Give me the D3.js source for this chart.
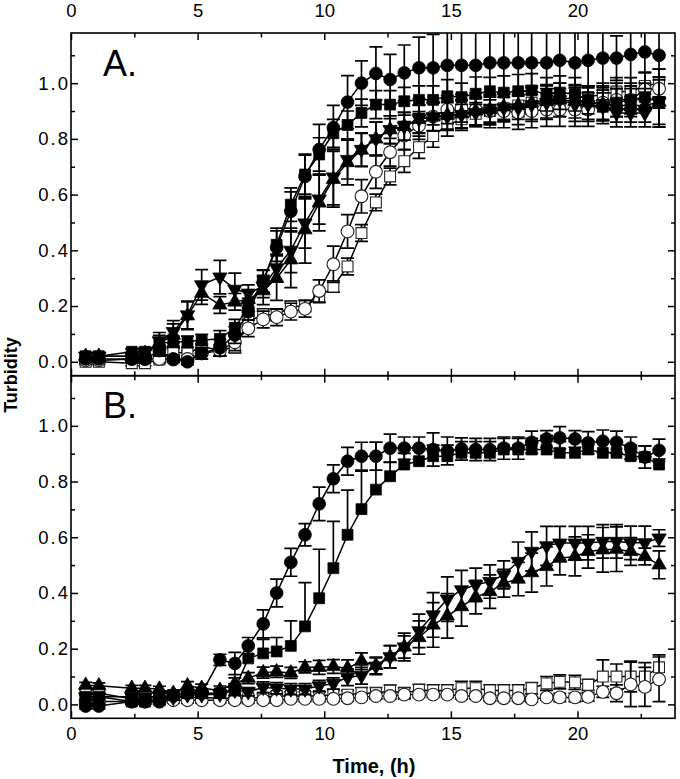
<!DOCTYPE html>
<html>
<head>
<meta charset="utf-8">
<script src="https://cdn.jsdelivr.net/npm/d3@7"></script>
<style>
  html, body { margin: 0; padding: 0; background: #fff; }
  svg { display: block; }
  text { font-family: "Liberation Sans", Arial, Helvetica, sans-serif; fill: #000; }
</style>
</head>
<body>
<svg id="chart" width="680" height="779"></svg>
<script>
// ---------------- DATA ----------------
const times = [0.58, 1.1, 2.4, 2.92, 3.49, 4.04, 4.6, 5.16, 5.88, 6.47, 7.0, 7.59, 8.12, 8.68, 9.24, 9.8,
  10.36, 10.92, 11.47, 12.04, 12.6, 13.16, 13.74, 14.3, 14.86, 15.42, 15.98, 16.54, 17.09, 17.66,
  18.19, 18.78, 19.3, 19.9, 20.42, 21.0, 21.54, 22.1, 22.66, 23.22];

const xTickLabels = [0, 5, 10, 15, 20];
const xMinorTicks = [2.5, 7.5, 12.5, 17.5, 22.5];
const yTickLabels = [0.0, 0.2, 0.4, 0.6, 0.8, 1.0];
const yMinorTicks = [0.1, 0.3, 0.5, 0.7, 0.9, 1.1];
const panelLabels = ["A.", "B."];

// Panel A
const aFilledCircle = [0.01,0.01,0.01,0.01,0.04,0.01,0.0,0.03,0.05,0.096,0.18,0.288,0.41,0.54,0.665,0.762,0.84,0.932,1.0,1.035,1.013,1.037,1.055,1.055,1.064,1.064,1.064,1.073,1.073,1.073,1.073,1.073,1.082,1.073,1.082,1.09,1.09,1.103,1.112,1.1];
const aFilledCircleErr = [0.01,0.01,0.01,0.01,0.02,0.01,0.01,0.02,0.03,0.03,0.03,0.04,0.06,0.07,0.08,0.09,0.08,0.095,0.08,0.095,0.09,0.1,0.11,0.12,0.12,0.14,0.14,0.15,0.15,0.15,0.15,0.15,0.15,0.15,0.15,0.15,0.08,0.15,0.15,0.15];
const aFilledSquare = [0.02,0.02,0.036,0.036,0.066,0.072,0.072,0.078,0.082,0.122,0.198,0.29,0.42,0.564,0.672,0.744,0.82,0.85,0.893,0.923,0.923,0.935,0.94,0.94,0.953,0.95,0.962,0.971,0.966,0.971,0.974,0.96,0.966,0.96,0.94,0.915,0.93,0.94,0.95,0.932];
const aFilledSquareErr = [0.01,0.01,0.01,0.01,0.02,0.02,0.02,0.02,0.03,0.03,0.03,0.04,0.06,0.06,0.07,0.06,0.05,0.05,0.05,0.05,0.05,0.05,0.05,0.05,0.06,0.05,0.06,0.05,0.06,0.06,0.06,0.06,0.06,0.06,0.05,0.05,0.05,0.05,0.05,0.09];
const aDownTri = [0.02,0.02,0.02,0.03,0.075,0.108,0.168,0.276,0.304,0.26,0.246,0.27,0.336,0.40,0.498,0.584,0.663,0.726,0.762,0.80,0.833,0.845,0.872,0.879,0.88,0.887,0.894,0.9,0.911,0.911,0.923,0.93,0.94,0.923,0.923,0.915,0.893,0.893,0.893,0.932];
const aDownTriErr = [0.01,0.01,0.01,0.02,0.03,0.04,0.05,0.055,0.06,0.058,0.03,0.04,0.05,0.08,0.09,0.09,0.1,0.07,0.06,0.06,0.05,0.05,0.05,0.05,0.05,0.05,0.05,0.05,0.05,0.06,0.06,0.06,0.06,0.06,0.06,0.06,0.05,0.05,0.05,0.08];
const aUpTri = [0.02,0.02,0.02,0.03,0.065,0.096,0.165,0.246,0.204,0.215,0.224,0.255,0.30,0.366,0.474,0.57,0.655,0.715,0.76,0.80,0.833,0.845,0.87,0.879,0.885,0.89,0.9,0.905,0.915,0.92,0.93,0.935,0.94,0.935,0.93,0.925,0.92,0.92,0.92,0.932];
const aUpTriErr = [0.01,0.01,0.01,0.02,0.03,0.04,0.05,0.04,0.03,0.03,0.03,0.05,0.08,0.1,0.12,0.1,0.1,0.08,0.06,0.06,0.05,0.05,0.05,0.05,0.05,0.05,0.05,0.05,0.05,0.05,0.06,0.06,0.06,0.06,0.06,0.06,0.06,0.06,0.06,0.09];
const aOpenCircle = [0.005,0.005,0.01,0.01,0.01,0.008,0.01,0.03,0.04,0.07,0.12,0.152,0.16,0.18,0.19,0.254,0.35,0.468,0.594,0.682,0.752,0.812,0.848,0.88,0.905,0.91,0.905,0.9,0.9,0.894,0.9,0.905,0.905,0.905,0.905,0.93,0.94,0.94,0.977,0.98];
const aOpenCircleErr = [0.01,0.01,0.01,0.01,0.01,0.01,0.01,0.02,0.02,0.03,0.03,0.03,0.03,0.03,0.03,0.04,0.065,0.06,0.06,0.06,0.05,0.05,0.05,0.05,0.05,0.05,0.06,0.06,0.06,0.06,0.06,0.06,0.06,0.06,0.06,0.06,0.06,0.06,0.06,0.07];
const aOpenSquare = [0.0,0.0,-0.005,-0.005,0.008,0.036,0.03,0.054,0.042,0.052,0.144,0.17,0.168,0.198,0.2,0.232,0.27,0.342,0.462,0.572,0.665,0.72,0.77,0.81,0.85,0.87,0.89,0.9,0.91,0.92,0.93,0.94,0.94,0.95,0.95,0.96,0.97,0.97,0.99,1.0];
const aOpenSquareErr = [0.01,0.01,0.01,0.01,0.01,0.01,0.01,0.01,0.02,0.02,0.02,0.02,0.02,0.02,0.02,0.02,0.02,0.03,0.03,0.03,0.03,0.04,0.04,0.04,0.04,0.04,0.04,0.04,0.04,0.04,0.04,0.04,0.04,0.04,0.04,0.04,0.05,0.05,0.05,0.05];

// Panel B
const bFilledCircle = [-0.006,-0.006,0.01,0.01,0.01,0.03,0.04,0.04,0.16,0.147,0.21,0.289,0.40,0.51,0.609,0.72,0.81,0.873,0.891,0.891,0.92,0.92,0.92,0.915,0.91,0.917,0.915,0.915,0.92,0.92,0.941,0.953,0.957,0.953,0.939,0.945,0.941,0.92,0.888,0.912];
const bFilledCircleErr = [0.01,0.01,0.01,0.01,0.01,0.01,0.01,0.01,0.02,0.04,0.03,0.05,0.05,0.05,0.04,0.06,0.05,0.05,0.05,0.05,0.05,0.04,0.04,0.06,0.05,0.04,0.04,0.04,0.04,0.04,0.04,0.03,0.04,0.03,0.04,0.04,0.04,0.04,0.04,0.04];
const bFilledSquare = [0.027,0.027,0.01,0.01,0.02,0.034,0.04,0.04,0.04,0.055,0.165,0.183,0.19,0.21,0.28,0.381,0.489,0.609,0.701,0.771,0.819,0.861,0.873,0.891,0.891,0.903,0.903,0.903,0.915,0.915,0.915,0.915,0.903,0.903,0.915,0.903,0.903,0.891,0.888,0.861];
const bFilledSquareErr = [0.01,0.01,0.01,0.01,0.01,0.01,0.01,0.01,0.01,0.02,0.05,0.05,0.05,0.09,0.157,0.176,0.168,0.16,0.136,0.17,0.05,0.04,0.04,0.04,0.04,0.04,0.04,0.04,0.04,0.04,0.04,0.05,0.04,0.04,0.03,0.04,0.04,0.04,0.04,0.02];
const bUpTri = [0.069,0.067,0.058,0.058,0.055,0.04,0.067,0.058,0.051,0.075,0.094,0.114,0.117,0.113,0.133,0.133,0.136,0.13,0.155,0.14,0.171,0.206,0.24,0.285,0.318,0.351,0.385,0.405,0.435,0.45,0.473,0.495,0.525,0.531,0.549,0.555,0.557,0.549,0.531,0.501];
const bUpTriErr = [0.01,0.01,0.01,0.01,0.01,0.01,0.015,0.015,0.015,0.02,0.02,0.02,0.02,0.02,0.02,0.025,0.025,0.03,0.03,0.03,0.04,0.04,0.06,0.08,0.08,0.07,0.06,0.06,0.05,0.06,0.07,0.07,0.06,0.07,0.06,0.08,0.08,0.05,0.03,0.05];
const bDownTri = [0.027,0.027,0.027,0.025,0.03,0.025,0.034,0.034,0.037,0.051,0.045,0.061,0.058,0.055,0.055,0.066,0.075,0.097,0.103,0.137,0.171,0.206,0.264,0.321,0.378,0.411,0.429,0.441,0.465,0.513,0.549,0.569,0.579,0.579,0.579,0.585,0.585,0.58,0.58,0.597];
const bDownTriErr = [0.01,0.01,0.01,0.01,0.01,0.01,0.01,0.01,0.015,0.02,0.015,0.02,0.02,0.02,0.02,0.02,0.02,0.03,0.03,0.03,0.04,0.05,0.06,0.08,0.08,0.07,0.06,0.06,0.05,0.07,0.07,0.07,0.06,0.06,0.06,0.06,0.06,0.06,0.06,0.03];
const bOpenCircle = [0.01,0.01,0.01,0.01,0.01,0.015,0.015,0.015,0.015,0.015,0.015,0.015,0.015,0.02,0.02,0.02,0.02,0.022,0.025,0.03,0.03,0.035,0.035,0.035,0.035,0.03,0.03,0.022,0.022,0.022,0.018,0.025,0.025,0.025,0.027,0.045,0.04,0.072,0.063,0.09];
const bOpenCircleErr = [0.01,0.01,0.01,0.01,0.01,0.01,0.01,0.01,0.01,0.01,0.01,0.01,0.01,0.01,0.01,0.01,0.01,0.01,0.01,0.01,0.01,0.01,0.01,0.01,0.01,0.01,0.01,0.01,0.01,0.01,0.01,0.01,0.015,0.015,0.015,0.02,0.03,0.08,0.07,0.08];
const bOpenSquare = [0.04,0.04,0.02,0.02,0.03,0.025,0.025,0.025,0.022,0.022,0.022,0.025,0.03,0.03,0.03,0.03,0.035,0.035,0.04,0.04,0.049,0.04,0.052,0.05,0.05,0.058,0.058,0.05,0.05,0.05,0.058,0.075,0.081,0.079,0.07,0.1,0.1,0.1,0.1,0.133];
const bOpenSquareErr = [0.01,0.01,0.01,0.01,0.01,0.01,0.01,0.01,0.01,0.01,0.01,0.01,0.015,0.015,0.015,0.015,0.015,0.015,0.02,0.02,0.02,0.02,0.02,0.02,0.02,0.025,0.025,0.02,0.02,0.02,0.02,0.025,0.025,0.025,0.02,0.06,0.045,0.055,0.05,0.045];

// ---------------- CHART ----------------
const svg = d3.select("#chart");
const left = 71, right = 675;
const panels = [
  { top: 33, bottom: 375.7, label: panelLabels[0], series: [
    { name: "openSquare", v: aOpenSquare, e: aOpenSquareErr, sym: "square", fill: "#fff", mode: "both" },
    { name: "openCircle", v: aOpenCircle, e: aOpenCircleErr, sym: "circle", fill: "#fff", mode: "both" },
    { name: "upTri", v: aUpTri, e: aUpTriErr, sym: "up", fill: "#000", mode: "both" },
    { name: "downTri", v: aDownTri, e: aDownTriErr, sym: "down", fill: "#000", mode: "both" },
    { name: "filledSquare", v: aFilledSquare, e: aFilledSquareErr, sym: "square", fill: "#000", mode: "both" },
    { name: "filledCircle", v: aFilledCircle, e: aFilledCircleErr, sym: "circle", fill: "#000", mode: "both" }
  ]},
  { top: 375.7, bottom: 718.3, label: panelLabels[1], series: [
    { name: "openSquare", v: bOpenSquare, e: bOpenSquareErr, sym: "square", fill: "#fff", mode: "both" },
    { name: "openCircle", v: bOpenCircle, e: bOpenCircleErr, sym: "circle", fill: "#fff", mode: "both" },
    { name: "upTri", v: bUpTri, e: bUpTriErr, sym: "up", fill: "#000", mode: "both" },
    { name: "downTri", v: bDownTri, e: bDownTriErr, sym: "down", fill: "#000", mode: "both" },
    { name: "filledSquare", v: bFilledSquare, e: bFilledSquareErr, sym: "square", fill: "#000", mode: "up" },
    { name: "filledCircle", v: bFilledCircle, e: bFilledCircleErr, sym: "circle", fill: "#000", mode: "both" }
  ]}
];

const x = d3.scaleLinear().domain([0, 23.85]).range([left, right]);

const symGen = {
  circle: d3.symbol().type(d3.symbolCircle).size(128)(),
  square: d3.symbol().type(d3.symbolSquare).size(118)(),
  up: d3.symbol().type(d3.symbolTriangle).size(88)(),
  down: d3.symbol().type(d3.symbolTriangle).size(88)()
};

panels.forEach((p, pi) => {
  const y = d3.scaleLinear().domain([-0.05, 1.18]).range([p.bottom, p.top]);
  const g = svg.append("g");
  const clipId = "clip" + pi;
  svg.append("clipPath").attr("id", clipId).append("rect")
    .attr("x", left).attr("y", p.top).attr("width", right - left).attr("height", p.bottom - p.top);

  const plot = g.append("g").attr("clip-path", `url(#${clipId})`);
  const line = d3.line().x((d, i) => x(times[i])).y(d => y(d));

  p.series.forEach(s => {
    const sg = plot.append("g").attr("class", s.name);
    sg.append("path").datum(s.v).attr("d", line)
      .attr("fill", "none").attr("stroke", "#000").attr("stroke-width", 1.5);
    const eb = sg.append("g").attr("stroke", "#000").attr("stroke-width", 1.7);
    s.v.forEach((v, i) => {
      const cx = x(times[i]);
      const yTop = y(v + s.e[i]);
      const yBot = s.mode === "up" ? y(v) : y(v - s.e[i]);
      eb.append("line").attr("x1", cx).attr("x2", cx).attr("y1", yTop).attr("y2", yBot);
      eb.append("line").attr("x1", cx - 6.5).attr("x2", cx + 6.5).attr("y1", yTop).attr("y2", yTop);
      if (s.mode !== "up") {
        eb.append("line").attr("x1", cx - 6.5).attr("x2", cx + 6.5).attr("y1", yBot).attr("y2", yBot);
      }
    });
    sg.selectAll("path.m").data(s.v).join("path").attr("class", "m")
      .attr("d", symGen[s.sym])
      .attr("transform", (d, i) => `translate(${x(times[i])},${y(d)})` + (s.sym === "down" ? " rotate(180)" : ""))
      .attr("fill", s.fill).attr("stroke", s.fill === "#fff" ? "#222" : "#000")
      .attr("stroke-width", s.fill === "#fff" ? 1.1 : 0.8);
  });

  const yMajL = d3.axisLeft(y).tickValues(yTickLabels).tickSize(-7).tickPadding(1)
    .tickFormat(d3.format(".1f"));
  const yMinL = d3.axisLeft(y).tickValues(yMinorTicks).tickSize(-4).tickFormat("");
  const gyl = g.append("g").attr("transform", `translate(${left},0)`).call(yMajL);
  g.append("g").attr("transform", `translate(${left},0)`).call(yMinL);
  const yMajR = d3.axisRight(y).tickValues(yTickLabels).tickSize(-7).tickFormat("");
  const yMinR = d3.axisRight(y).tickValues(yMinorTicks).tickSize(-4).tickFormat("");
  g.append("g").attr("transform", `translate(${right},0)`).call(yMajR);
  g.append("g").attr("transform", `translate(${right},0)`).call(yMinR);
  gyl.selectAll("text").style("font-size", "18.5px").style("letter-spacing", "2px");

  const xMajTop = d3.axisTop(x).tickValues(xTickLabels).tickSize(-7).tickPadding(16.5)
    .tickFormat(pi === 0 ? d3.format("d") : "");
  const xMinTop = d3.axisTop(x).tickValues(xMinorTicks).tickSize(-4.5).tickFormat("");
  const xMajBot = d3.axisBottom(x).tickValues(xTickLabels).tickSize(-7).tickPadding(9)
    .tickFormat(pi === 1 ? d3.format("d") : "");
  const xMinBot = d3.axisBottom(x).tickValues(xMinorTicks).tickSize(-4.5).tickFormat("");
  const gxt = g.append("g").attr("transform", `translate(0,${p.top})`).call(xMajTop);
  g.append("g").attr("transform", `translate(0,${p.top})`).call(xMinTop);
  const gxb = g.append("g").attr("transform", `translate(0,${p.bottom})`).call(xMajBot);
  g.append("g").attr("transform", `translate(0,${p.bottom})`).call(xMinBot);
  gxt.selectAll("text").style("font-size", "18.5px").attr("dy", "0");
  gxb.selectAll("text").style("font-size", "18.5px");

  g.selectAll(".domain").remove();
  g.selectAll(".tick line").attr("stroke", "#000").attr("stroke-width", 1.5);
  g.selectAll(".tick text").attr("fill", "#000").style("font-family", '"Liberation Sans", Arial, sans-serif');

  g.append("rect").attr("x", left).attr("y", p.top).attr("width", right - left).attr("height", p.bottom - p.top)
    .attr("fill", "none").attr("stroke", "#000").attr("stroke-width", 1.6);

  g.append("text").attr("x", 103).attr("y", p.top + (pi === 0 ? 43 : 42.5))
    .style("font-size", "36px").text(p.label);
});

svg.append("text").attr("transform", "translate(17,375) rotate(-90)")
  .attr("text-anchor", "middle").style("font-size", "18px").style("font-weight", "bold").text("Turbidity");
svg.append("text").attr("x", 374).attr("y", 773)
  .attr("text-anchor", "middle").style("font-size", "20px").style("font-weight", "bold").text("Time, (h)");
</script>
</body>
</html>
